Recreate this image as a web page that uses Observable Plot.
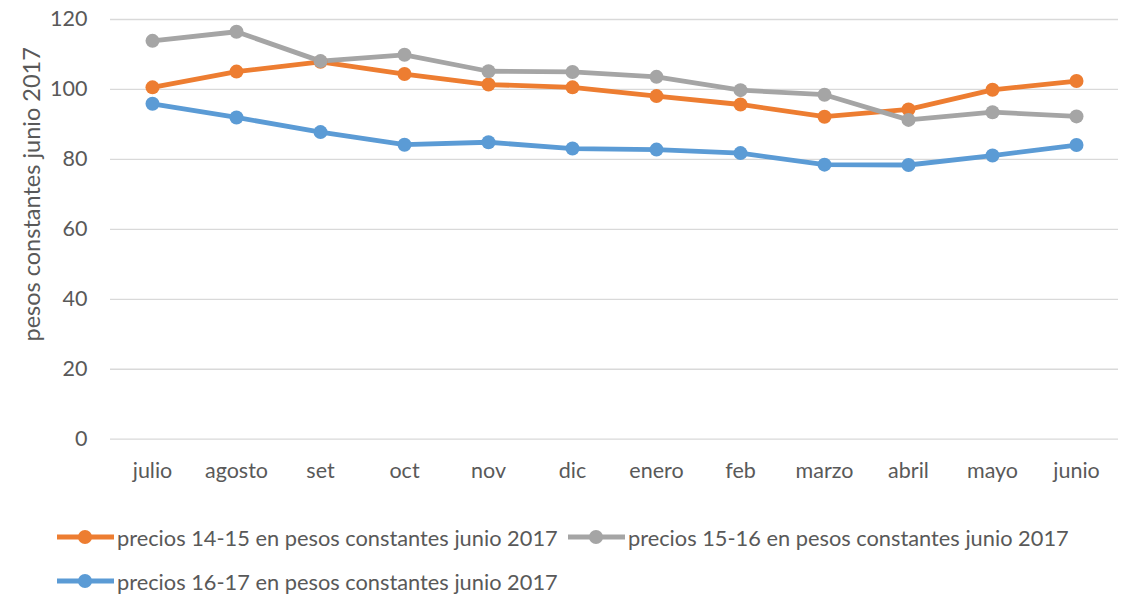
<!DOCTYPE html>
<html>
<head>
<meta charset="utf-8">
<script src="https://cdn.jsdelivr.net/npm/d3@7"></script>
<script src="https://cdn.jsdelivr.net/npm/@observablehq/plot@0.6"></script>
<style>
  body { margin: 0; background: #fff; font-family: Lato, "Open Sans", sans-serif; }
  #wrap { position: relative; width: 1121px; height: 595px; }
  .leg { position: absolute; display: flex; align-items: center; font-size: 21.8px; color: #595959; white-space: nowrap; }
  .leg svg { margin-right: 3px; }
</style>
</head>
<body>
<div id="wrap"></div>
<script>
const months = ["julio","agosto","set","oct","nov","dic","enero","feb","marzo","abril","mayo","junio"];
const seriesNames = [
  "precios 14-15 en pesos constantes junio 2017",
  "precios 15-16 en pesos constantes junio 2017",
  "precios 16-17 en pesos constantes junio 2017"
];
const seriesColors = ["#ED7D31", "#A5A5A5", "#5B9BD5"];
const values1415 = [100.6, 105.1, 107.9, 104.4, 101.4, 100.6, 98.1, 95.7, 92.2, 94.3, 99.9, 102.4];
const values1516 = [113.9, 116.5, 108.1, 109.9, 105.2, 105.0, 103.6, 99.8, 98.5, 91.3, 93.5, 92.3];
const values1617 = [95.9, 92.0, 87.8, 84.2, 84.9, 83.1, 82.8, 81.8, 78.5, 78.4, 81.1, 84.1];
const yTicks = [0, 20, 40, 60, 80, 100, 120];
const yLabel = "pesos constantes junio 2017";

const allValues = [values1415, values1516, values1617];
const data = [];
allValues.forEach((vals, si) => vals.forEach((v, i) => data.push({month: months[i], value: v, series: seriesNames[si]})));

const chart = Plot.plot({
  width: 1121,
  height: 500,
  marginTop: 19,
  marginBottom: 61.3,
  marginLeft: 110,
  marginRight: 3,
  style: {fontFamily: "Lato, 'Open Sans', sans-serif", fontSize: "21.5px", color: "#595959", background: "#fff", overflow: "visible"},
  x: {type: "band", domain: months, padding: 0},
  y: {domain: [0, 120]},
  color: {domain: seriesNames, range: seriesColors},
  marks: [
    Plot.gridY(yTicks, {stroke: "#d9d9d9", strokeOpacity: 1, strokeWidth: 1.3}),
    Plot.axisY(yTicks, {tickSize: 0, tickPadding: 23, label: null, fill: "#595959", fontSize: 21.5}),
    Plot.axisX({tickSize: 0, tickPadding: 24, label: null, fill: "#595959", fontSize: 21.5}),
    Plot.text([yLabel], {frameAnchor: "left", textAnchor: "middle", dx: -78, dy: -35, rotate: -90, fill: "#595959", fontSize: 23.5}),
    Plot.line(data, {x: "month", y: "value", z: "series", stroke: "series", strokeWidth: 4.8, curve: "linear"}),
    Plot.dot(data, {x: "month", y: "value", fill: "series", r: 7, stroke: null})
  ]
});

const wrap = document.getElementById("wrap");
wrap.appendChild(chart);

const legPos = [[57, 537], [568, 537], [57, 581]];
seriesNames.forEach((name, i) => {
  const d = document.createElement("div");
  d.className = "leg";
  d.style.left = legPos[i][0] + "px";
  d.style.top = (legPos[i][1] - 14) + "px";
  d.style.height = "28px";
  d.innerHTML = `<svg width="57" height="16"><line x1="0" y1="8" x2="57" y2="8" stroke="${seriesColors[i]}" stroke-width="4.8"/><circle cx="28" cy="8" r="7" fill="${seriesColors[i]}"/></svg><span>${name}</span>`;
  wrap.appendChild(d);
});
</script>
</body>
</html>
